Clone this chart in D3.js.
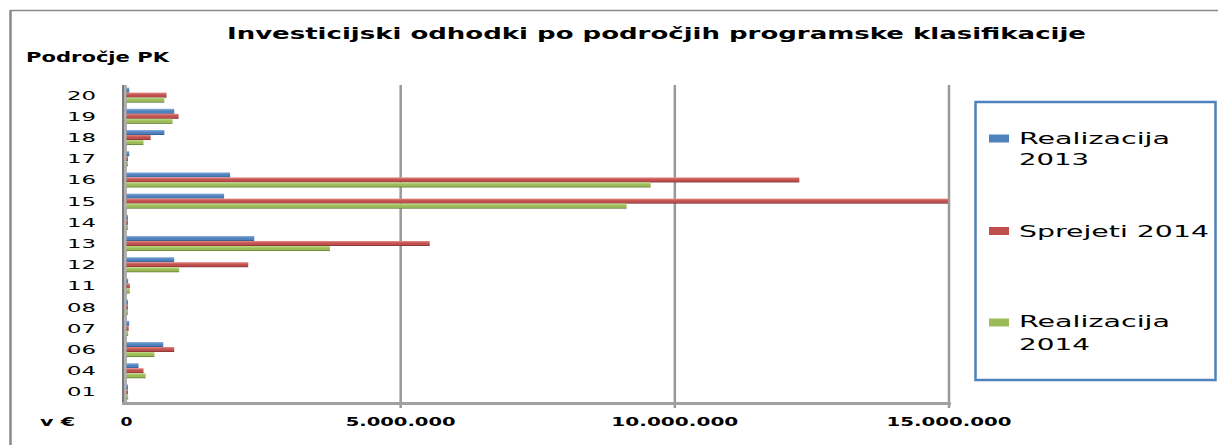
<!DOCTYPE html>
<html><head><meta charset="utf-8">
<script src="https://cdn.jsdelivr.net/npm/d3@7"></script>
<style>body{margin:0;background:#fff}svg{display:block}text{font-family:"DejaVu Sans",sans-serif;fill:#000}</style>
</head><body><svg id="c" width="1218" height="445"></svg>
<script>
const categories = ["20","19","18","17","16","15","14","13","12","11","08","07","06","04","01"];
const seriesNames = ["Realizacija 2013","Sprejeti 2014","Realizacija 2014"];
const realizacija2013 = [50000,870000,690000,50000,1890000,1780000,20000,2330000,870000,30000,20000,50000,670000,220000,20000];
const sprejeti2014   = [730000,950000,440000,20000,12270000,14980000,10000,5530000,2220000,60000,20000,40000,870000,310000,20000];
const realizacija2014 = [690000,840000,310000,20000,9560000,9120000,20000,3710000,960000,60000,20000,30000,510000,350000,30000];
const xTicks = [0,5000000,10000000,15000000];
const xTickLabels = ["0","5.000.000","10.000.000","15.000.000"];
const colors = ["#4F81BD","#C0504D","#9BBB59"];
const seriesValues = [realizacija2013, sprejeti2014, realizacija2014];

const svg = d3.select("#c");
const defs = svg.append("defs");
const grads = [["#8fb0dc","#4F81BD","#2b4a73"],["#e88a88","#C0504D","#6e2a28"],["#c2dc8a","#9BBB59","#556f28"]];
grads.forEach((g,i)=>{
  const lg = defs.append("linearGradient").attr("id","g"+i).attr("x1",0).attr("y1",0).attr("x2",0).attr("y2",1);
  lg.append("stop").attr("offset","0%").attr("stop-color",g[0]);
  lg.append("stop").attr("offset","45%").attr("stop-color",g[1]);
  lg.append("stop").attr("offset","75%").attr("stop-color",g[1]);
  lg.append("stop").attr("offset","100%").attr("stop-color",g[2]);
});

// outer border
svg.append("line").attr("x1",10).attr("x2",1218).attr("y1",10.5).attr("y2",10.5).attr("stroke","#8a8a8a").attr("stroke-width",1.5);
svg.append("line").attr("x1",10.5).attr("x2",10.5).attr("y1",10).attr("y2",445).attr("stroke","#8a8a8a").attr("stroke-width",2.5);

const x = d3.scaleLinear().domain([0,15000000]).range([126.5,949]);
const y = d3.scaleBand().domain(categories).range([84.5,402.5]).paddingInner(0.29).paddingOuter(0.145);
const ys = d3.scaleBand().domain([0,1,2]).range([0,y.bandwidth()]);

// gridlines
svg.append("g").selectAll("line").data(xTicks.slice(1)).join("line")
  .attr("x1",d=>x(d)).attr("x2",d=>x(d)).attr("y1",85).attr("y2",408)
  .attr("stroke","#999").attr("stroke-width",2.5);

// title
svg.append("text").attr("x",227).attr("y",39).attr("font-size",16).attr("font-weight","bold")
  .attr("textLength",859).attr("lengthAdjust","spacingAndGlyphs")
  .text("Investicijski odhodki po področjih programske klasifikacije");
svg.append("text").attr("x",26).attr("y",62).attr("font-size",14).attr("font-weight","bold")
  .attr("textLength",143).attr("lengthAdjust","spacingAndGlyphs").text("Področje PK");

// y axis (behind bars start)
svg.append("rect").attr("x",122).attr("y",85).attr("width",5).attr("height",320).attr("fill","#b0b0b0");
svg.append("line").attr("x1",123).attr("x2",123).attr("y1",85).attr("y2",405).attr("stroke","#7a7a7a").attr("stroke-width",2);

// bars
const g = svg.append("g");
seriesValues.forEach((vals,si)=>{
  g.append("g").selectAll("rect").data(categories.map((c,i)=>({c,v:vals[i]}))).join("rect")
    .attr("x",x(0)).attr("y",d=>y(d.c)+ys(si))
    .attr("width",d=>Math.max(1.5,x(d.v)-x(0))).attr("height",ys.bandwidth())
    .attr("fill","url(#g"+si+")");
});

// x axis
svg.append("line").attr("x1",122).attr("x2",951).attr("y1",403.5).attr("y2",403.5).attr("stroke","#a0a0a0").attr("stroke-width",3);

// y labels
svg.append("g").selectAll("text").data(categories).join("text")
  .attr("x",96).attr("y",d=>y(d)+y.bandwidth()/2+4.5).attr("text-anchor","end")
  .attr("font-size",12.5).attr("textLength",29).attr("lengthAdjust","spacingAndGlyphs").text(d=>d);

// x labels
const xw = [12,110,127,125];
svg.append("g").selectAll("text").data(xTicks).join("text")
  .attr("x",(d,i)=>x(d)-xw[i]/2).attr("y",426).attr("font-size",13).attr("font-weight","bold")
  .attr("textLength",(d,i)=>xw[i]).attr("lengthAdjust","spacingAndGlyphs").text((d,i)=>xTickLabels[i]);
svg.append("text").attr("x",40).attr("y",426).attr("font-size",13).attr("font-weight","bold")
  .attr("textLength",35).attr("lengthAdjust","spacingAndGlyphs").text("v €");

// legend
svg.append("rect").attr("x",975.5).attr("y",102).attr("width",240).attr("height",278)
  .attr("fill","#fff").attr("stroke","#4F81BD").attr("stroke-width",2.5);
const legendLines = [["Realizacija","2013"],["Sprejeti 2014"],["Realizacija","2014"]];
const legendW = [[151,70],[190],[151,71]];
const swY = [138.5,231,322.5];
const txtY = [[144,165],[237],[327,350]];
legendLines.forEach((lines,i)=>{
  svg.append("rect").attr("x",989).attr("y",swY[i]-4).attr("width",20).attr("height",8).attr("fill",colors[i]);
  lines.forEach((t,j)=>{
    svg.append("text").attr("x",1019).attr("y",txtY[i][j]).attr("font-size",15.5)
      .attr("textLength",legendW[i][j]).attr("lengthAdjust","spacingAndGlyphs").text(t);
  });
});
</script></body></html>
